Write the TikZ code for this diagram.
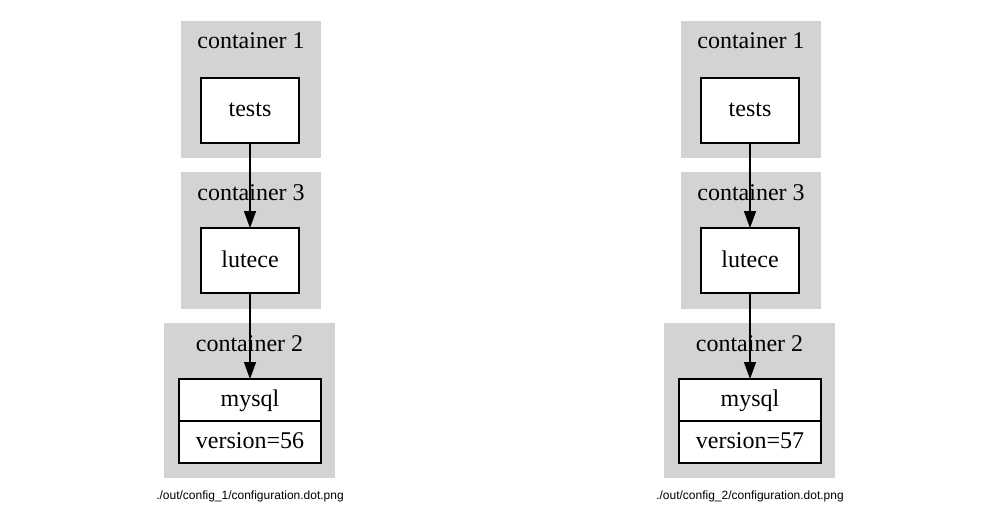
\documentclass[tikz,border=0pt]{standalone}
\usepackage{fontspec}
\setmainfont{Liberation Serif}
\setsansfont{Liberation Sans}
\usepackage{xcolor}
\usetikzlibrary{positioning,arrows.meta}
\definecolor{clustergray}{HTML}{D3D3D3}

\tikzset{
	cluster/.style={fill=clustergray,draw=none,minimum width=140pt,minimum height=137pt,inner sep=0pt},
	clabel/.style={anchor=base,inner sep=0pt,font=\fontsize{24}{28}\selectfont},
	box/.style={draw,line width=1.5pt,fill=white,minimum width=98pt,minimum height=65pt,inner sep=0pt,outer sep=0pt,
		text height=13pt,text depth=0pt,font=\fontsize{24}{28}\selectfont},
	field/.style={box,minimum width=142pt,minimum height=42pt},
	caption/.style={font=\sffamily\fontsize{12}{14}\selectfont,inner sep=0pt}
}

\begin{document}
\begin{tikzpicture}[x=1pt,y=-1pt,->,>={Triangle[length=17pt,width=12pt]},line width=1.5pt]
	\useasboundingbox (0,0) rectangle (1000,516);

	% config_1
	\node[cluster] (cA1) at (251,89.5) {};
	\node[cluster] (cC1) at (251,240.5) {};
	\node[cluster,minimum width=171pt,minimum height=155pt] (cB1) at (249.5,400.5) {};
	\node[clabel] at (251,49) {container 1};
	\node[clabel] at (251,200) {container 3};
	\node[clabel] at (249.5,351) {container 2};
	\node[box] (tests1) at (250,110.5) {tests};
	\node[box] (lutece1) [below=85pt of tests1] {lutece};
	\node[field] (mysql1) [below=86pt of lutece1] {mysql};
	\node[field] (ver1) [below=0pt of mysql1] {version=56};
	\node[caption] (cap1) at (250,496) {./out/config\_1/configuration.dot.png};

	\draw (tests1) -- (lutece1);
	\draw (lutece1) -- (mysql1);

	% config_2
	\node[cluster] (cA2) at (751,89.5) {};
	\node[cluster] (cC2) at (751,240.5) {};
	\node[cluster,minimum width=171pt,minimum height=155pt] (cB2) at (749.5,400.5) {};
	\node[clabel] at (751,49) {container 1};
	\node[clabel] at (751,200) {container 3};
	\node[clabel] at (749.5,351) {container 2};
	\node[box] (tests2) at (750,110.5) {tests};
	\node[box] (lutece2) [below=85pt of tests2] {lutece};
	\node[field] (mysql2) [below=86pt of lutece2] {mysql};
	\node[field] (ver2) [below=0pt of mysql2] {version=57};
	\node[caption] (cap2) at (750,496) {./out/config\_2/configuration.dot.png};

	\draw (tests2) -- (lutece2);
	\draw (lutece2) -- (mysql2);
\end{tikzpicture}
\end{document}
